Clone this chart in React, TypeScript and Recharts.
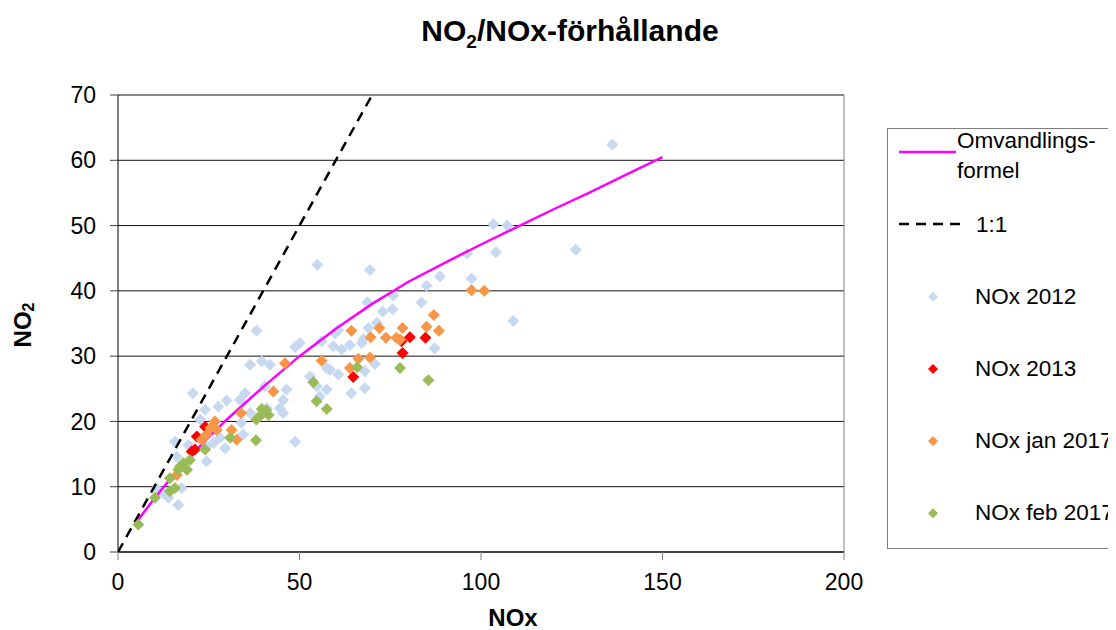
import React from "react"
import { CartesianGrid, Label, Legend, ReferenceLine, Scatter, ScatterChart, XAxis, YAxis } from "recharts"

const FONT = '"Liberation Sans", Arial, sans-serif'

// [NOx, NO2]
const nox2012 = [
    [136.2, 62.4], [103.4, 50.2], [107.2, 50.0], [96.2, 45.7], [104.1, 45.9], [126.1, 46.3],
    [54.9, 44.0], [69.4, 43.2], [88.7, 42.2], [97.4, 41.9], [85.0, 40.8],
    [75.8, 39.3], [68.7, 38.2], [83.6, 38.2], [72.9, 36.8], [75.6, 37.2], [108.9, 35.4],
    [71.3, 35.1], [69.0, 34.3], [60.7, 34.0], [59.8, 33.5], [38.2, 33.9],
    [56.1, 32.3], [50.1, 32.0], [48.8, 31.4], [67.1, 32.0], [63.9, 31.7], [61.6, 31.0], [59.3, 31.5], [67.6, 32.6],
    [87.2, 31.2], [70.8, 28.8], [68.0, 27.7], [58.4, 27.9], [60.7, 27.2], [57.5, 28.2], [52.9, 26.9],
    [36.4, 28.7], [39.6, 29.2], [41.9, 28.7], [64.3, 24.3], [68.0, 25.1], [57.5, 24.9], [55.6, 23.8], [54.7, 25.4],
    [46.4, 24.9], [45.5, 23.3], [45.5, 21.3], [40.5, 25.4], [35.0, 24.3], [33.6, 23.3], [36.4, 21.3],
    [20.6, 24.3], [24.0, 21.8], [27.6, 22.3], [29.9, 23.2], [41.0, 22.0], [44.6, 22.0],
    [22.6, 20.3], [34.0, 19.8], [34.5, 18.0], [26.3, 18.7], [48.8, 16.9],
    [15.7, 16.9], [19.4, 16.4], [26.3, 16.7], [28.1, 17.5], [29.5, 15.9],
    [24.4, 13.9], [24.4, 16.2], [16.2, 14.6],
    [10.6, 9.8], [12.5, 9.0], [13.9, 8.3], [16.6, 7.2], [17.5, 9.8],
]

const nox2013 = [
    [80.4, 32.9], [78.1, 32.3], [78.4, 30.5], [84.7, 32.8], [64.8, 26.8],
    [24.0, 19.2], [21.7, 17.7], [20.3, 15.4], [21.2, 15.7],
]

const noxJan2017 = [
    [97.4, 40.1], [100.9, 40.0], [87.0, 36.3], [85.0, 34.5], [88.4, 33.9],
    [78.4, 34.3], [72.0, 34.3], [69.6, 32.9], [64.3, 33.9], [73.8, 32.8], [76.7, 32.8], [77.7, 32.5],
    [69.4, 29.8], [66.2, 29.6], [63.9, 28.2], [56.1, 29.3], [46.0, 28.9],
    [42.8, 24.6], [33.9, 21.3], [26.7, 20.0], [27.2, 18.7], [24.4, 18.0], [23.0, 17.2],
    [31.3, 18.7], [32.7, 17.2], [16.2, 11.8], [25.5, 19.0],
]

const noxFeb2017 = [
    [85.5, 26.3], [77.7, 28.2], [65.9, 28.3], [53.8, 26.0], [54.7, 23.1], [57.5, 21.9],
    [40.0, 21.3], [40.8, 21.7], [38.1, 20.3], [39.6, 21.9], [41.5, 21.0], [39.0, 20.8],
    [30.9, 17.5], [38.0, 17.1], [24.0, 15.7],
    [18.0, 13.6], [19.8, 14.1], [16.6, 12.6], [17.1, 13.1], [19.0, 12.6], [14.3, 11.3],
    [15.7, 9.8], [14.3, 9.3], [10.2, 8.3], [5.6, 4.2],
]

// Omvandlingsformel
const formulaNOx = [5, 10, 15, 20, 25, 30, 40, 50, 60, 70, 80, 90, 100, 110, 120, 130, 140, 150]
const formulaNO2 = [4.5, 8.2, 11.6, 14.7, 17.6, 20.3, 25.3, 30, 34.2, 38.0, 41.4, 44.3, 47.1, 49.8, 52.5, 55.1, 57.8, 60.5]

const oneToOne = [[0, 0], [70, 70]]

const xTicks = [0, 50, 100, 150, 200]
const yTicks = [0, 10, 20, 30, 40, 50, 60, 70]

const toPoints = (arr) => arr.map(([x, y]) => ({ x, y }))
const curvePoints = formulaNOx.map((x, i) => ({ x, y: formulaNO2[i] }))

const series = [
    { name: "NOx 2012", data: nox2012, color: "#C6D9F1" },
    { name: "NOx 2013", data: nox2013, color: "#FF0000" },
    { name: "NOx jan 2017", data: noxJan2017, color: "#F79646" },
    { name: "NOx feb 2017", data: noxFeb2017, color: "#9BBB59" },
]

const diamond = (fill, r) => (props) => {
    const { cx, cy } = props
    return <polygon points={`${cx},${cy - r} ${cx + r},${cy} ${cx},${cy + r} ${cx - r},${cy}`} fill={fill} />
}

const noMarker = () => <g />

// legend box, top-left sits at page (887, 128)
const LegendBox = () => (
    <svg width={240} height={422} style={{ display: "block" }}>
        <rect x={0.5} y={0.5} width={260} height={420} fill="#fff" stroke="#808080" />
        <line x1={12} x2={69} y1={24} y2={24} stroke="#FF00FF" strokeWidth={2.5} />
        <text x={70} y={20} fontSize={22.5} fontFamily={FONT}>Omvandlings-</text>
        <text x={70} y={50} fontSize={22.5} fontFamily={FONT}>formel</text>
        <line x1={12} x2={78} y1={96} y2={96} stroke="#000" strokeWidth={2.5} strokeDasharray="10 7" />
        <text x={89} y={104} fontSize={22.5} fontFamily={FONT}>1:1</text>
        {series.map((s, i) => {
            const cy = 168.7 + i * 72.2
            return (
                <g key={s.name}>
                    {diamond(s.color, 5)({ cx: 46, cy })}
                    <text x={88} y={cy + 7} fontSize={22.5} fontFamily={FONT}>{s.name}</text>
                </g>
            )
        })}
    </svg>
)

const App = () => {
    return (
        <div style={{ position: "relative", width: 1108, height: 622, overflow: "hidden", fontFamily: FONT }}>
            <svg width={1108} height={60} style={{ position: "absolute", left: 0, top: 0 }}>
                <text x={562} y={33} textAnchor="middle" fontSize={30} fontWeight="bold" fontFamily={FONT}>
                    NO<tspan dy={7} fontSize={19}>2</tspan><tspan dy={-7}>/NOx-förhållande</tspan>
                </text>
            </svg>
            <ScatterChart
                width={1108}
                height={622}
                margin={{ top: 87, right: 272, left: 50, bottom: 38 }}
                style={{ position: "absolute", left: 0, top: 0 }}
            >
                <CartesianGrid vertical={false} stroke="#111" />
                <ReferenceLine x={200} stroke="#808080" />
                <XAxis
                    type="number"
                    dataKey="x"
                    domain={[0, 200]}
                    ticks={xTicks}
                    height={40}
                    tickSize={8}
                    tickMargin={14}
                    tick={{ fill: "#000", fontSize: 23, fontFamily: FONT }}
                    axisLine={{ stroke: "#000" }}
                    tickLine={{ stroke: "#808080" }}
                    allowDataOverflow
                >
                    <Label content={() => (
                        <text x={505} y={618} textAnchor="middle" fontSize={24} fontWeight="bold" fontFamily={FONT}>NOx</text>
                    )} />
                </XAxis>
                <YAxis
                    type="number"
                    dataKey="y"
                    domain={[0, 70]}
                    ticks={yTicks}
                    width={60}
                    tickSize={8}
                    tickMargin={14}
                    tick={{ fill: "#000", fontSize: 23, fontFamily: FONT }}
                    axisLine={{ stroke: "#000" }}
                    tickLine={{ stroke: "#404040" }}
                    allowDataOverflow
                >
                    <Label content={() => (
                        <text x={14} y={317} transform="rotate(-90 14 317)" textAnchor="middle" dominantBaseline="central"
                            fontSize={24} fontWeight="bold" fontFamily={FONT}>
                            NO<tspan dy={6} fontSize={16}>2</tspan>
                        </text>
                    )} />
                </YAxis>
                <Scatter name="NOx 2012" data={toPoints(nox2012)} shape={diamond("#C6D9F1", 6)} isAnimationActive={false} />
                <Scatter name="Omvandlingsformel" data={curvePoints} line={{ stroke: "#FF00FF", strokeWidth: 2.5 }} shape={noMarker} isAnimationActive={false} />
                <Scatter name="1:1" data={toPoints(oneToOne)} line={{ stroke: "#000", strokeWidth: 2.5, strokeDasharray: "10 7" }} shape={noMarker} isAnimationActive={false} />
                <Scatter name="NOx 2013" data={toPoints(nox2013)} shape={diamond("#FF0000", 6)} isAnimationActive={false} />
                <Scatter name="NOx jan 2017" data={toPoints(noxJan2017)} shape={diamond("#F79646", 6)} isAnimationActive={false} />
                <Scatter name="NOx feb 2017" data={toPoints(noxFeb2017)} shape={diamond("#9BBB59", 6)} isAnimationActive={false} />
                <Legend
                    layout="horizontal"
                    verticalAlign="middle"
                    align="center"
                    content={() => <LegendBox />}
                    wrapperStyle={{ position: "absolute", left: 879, top: 120, width: 240, height: 422 }}
                />
            </ScatterChart>
        </div>
    )
}

export default App
